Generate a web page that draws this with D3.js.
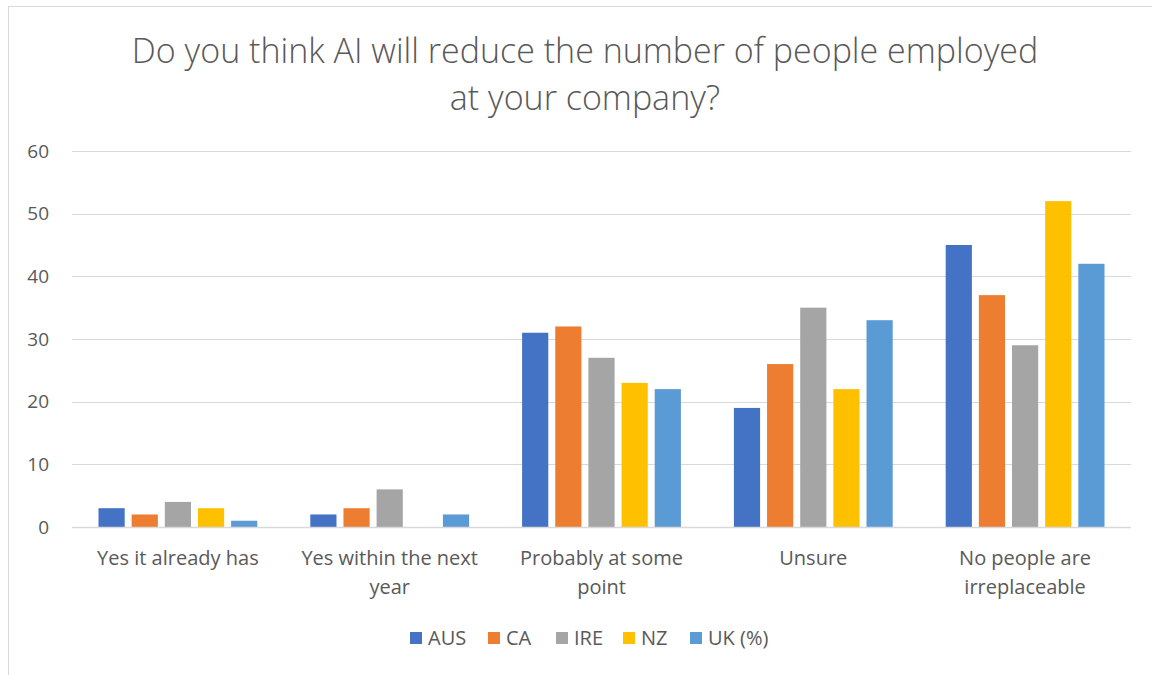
<!DOCTYPE html>
<html>
<head>
<meta charset="utf-8">
<script src="https://cdn.jsdelivr.net/npm/d3@7"></script>
<style>
  html, body { margin: 0; padding: 0; background: #fff; }
  svg { display: block; }
  text { font-family: "Open Sans", "Noto Sans", sans-serif; fill: #595959; }
</style>
</head>
<body>
<svg id="chart" width="1152" height="675"></svg>
<script>
// Data
const categories = [["Yes it already has"], ["Yes within the next", "year"], ["Probably at some", "point"], ["Unsure"], ["No people are", "irreplaceable"]];
const seriesNames = ["AUS", "CA", "IRE", "NZ", "UK (%)"];
const seriesColors = ["#4472c4", "#ed7d31", "#a5a5a5", "#ffc000", "#5b9bd5"];
const valuesAUS = [3, 2, 31, 19, 45];
const valuesCA = [2, 3, 32, 26, 37];
const valuesIRE = [4, 6, 27, 35, 29];
const valuesNZ = [3, 0, 23, 22, 52];
const valuesUK = [1, 2, 22, 33, 42];
const yTicks = [0, 10, 20, 30, 40, 50, 60];

const series = [valuesAUS, valuesCA, valuesIRE, valuesNZ, valuesUK];

const plot = { left: 72, right: 1131, top: 151, bottom: 527 };

const svg = d3.select('#chart');

// outer border
svg.append('rect')
  .attr('x', 8.5).attr('y', 6.5)
  .attr('width', 1200).attr('height', 700)
  .attr('fill', 'none').attr('stroke', '#d9d9d9').attr('stroke-width', 1);

// title
const title = svg.append('text')
  .attr('text-anchor', 'middle')
  .style('font-size', '34px')
  .style('font-weight', 300);
title.append('tspan').attr('x', 585).attr('y', 63).text('Do you think AI will reduce the number of people employed');
title.append('tspan').attr('x', 585).attr('y', 110).text('at your company?');

const catIdx = d3.range(categories.length);
const x0 = d3.scaleBand().domain(catIdx).range([plot.left, plot.right]);
const x1 = d3.scaleBand().domain(d3.range(seriesNames.length))
  .range([26.5, x0.bandwidth() - 26.5]).paddingInner(0.21);
const y = d3.scaleLinear().domain([0, 60]).range([plot.bottom, plot.top]);

// gridlines
svg.append('g').selectAll('line').data(yTicks.filter(d => d > 0)).enter().append('line')
  .attr('x1', plot.left).attr('x2', plot.right)
  .attr('y1', d => Math.round(y(d)) + 0.5).attr('y2', d => Math.round(y(d)) + 0.5)
  .attr('stroke', '#d9d9d9').attr('stroke-width', 1);

// y axis labels
const yAxis = svg.append('g')
  .attr('transform', `translate(${plot.left},0)`)
  .call(d3.axisLeft(y).tickValues(yTicks).tickSize(0).tickPadding(23));
yAxis.select('.domain').remove();
yAxis.selectAll('text').style('font-size', '19px').style('fill', '#595959')
  .style('font-family', '"Open Sans", "Noto Sans", sans-serif');

// bars
const groups = svg.append('g').selectAll('g').data(catIdx).enter().append('g')
  .attr('transform', i => `translate(${x0(i)},0)`);
groups.selectAll('rect')
  .data(i => series.map((s, k) => ({ k, v: s[i] })))
  .enter().append('rect')
  .attr('x', d => x1(d.k))
  .attr('y', d => y(d.v))
  .attr('width', x1.bandwidth())
  .attr('height', d => y(0) - y(d.v))
  .attr('fill', d => seriesColors[d.k]);

// baseline
svg.append('line')
  .attr('x1', plot.left).attr('x2', plot.right)
  .attr('y1', Math.round(y(0)) + 0.5).attr('y2', Math.round(y(0)) + 0.5)
  .attr('stroke', '#d9d9d9').attr('stroke-width', 1.5);

// category labels
const catLabels = svg.append('g').selectAll('text').data(catIdx).enter().append('text')
  .attr('text-anchor', 'middle')
  .style('font-size', '20px');
catLabels.each(function (i) {
  const t = d3.select(this);
  categories[i].forEach((line, j) => {
    t.append('tspan')
      .attr('x', x0(i) + x0.bandwidth() / 2)
      .attr('y', 565 + j * 29)
      .text(line);
  });
});

// legend
const legendX = [410, 488, 556, 623, 690];
const legend = svg.append('g').selectAll('g').data(seriesNames).enter().append('g')
  .attr('transform', (d, i) => `translate(${legendX[i]},632)`);
legend.append('rect').attr('x', 0).attr('y', 0).attr('width', 12).attr('height', 12)
  .attr('fill', (d, i) => seriesColors[i]);
legend.append('text').attr('x', 18).attr('y', 13)
  .style('font-size', '20px')
  .text(d => d);
</script>
</body>
</html>
